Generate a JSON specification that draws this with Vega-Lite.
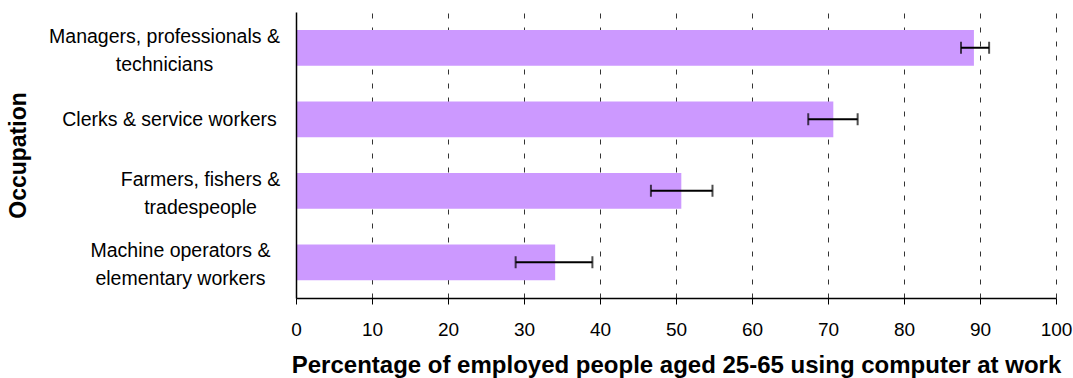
{
  "$schema": "https://vega.github.io/schema/vega-lite/v6.json",
  "width": 760,
  "height": 286,
  "autosize": {"type": "none"},
  "padding": {"left": 296, "top": 12, "right": 17, "bottom": 80},
  "background": "white",
  "config": {
    "view": {"stroke": null},
    "font": "Liberation Sans"
  },
  "data": {
    "values": [
      {"occupation": "Managers, professionals & technicians", "value": 89.2, "lo": 87.5, "hi": 91.2},
      {"occupation": "Clerks & service workers", "value": 70.7, "lo": 67.4, "hi": 73.9},
      {"occupation": "Farmers, fishers & tradespeople", "value": 50.7, "lo": 46.7, "hi": 54.8},
      {"occupation": "Machine operators & elementary workers", "value": 34.1, "lo": 28.9, "hi": 39.0}
    ]
  },
  "encoding": {
    "y": {
      "field": "occupation",
      "type": "nominal",
      "sort": null,
      "scale": {"paddingInner": 0.5, "paddingOuter": 0.25},
      "axis": {
        "title": "Occupation",
        "titleFont": "Liberation Sans",
        "titleFontSize": 23,
        "titleFontWeight": "bold",
        "titleColor": "black",
        "titleAngle": 270,
        "titleAlign": "center",
        "titleBaseline": "middle",
        "titleX": -278,
        "titleY": 143,
        "labelFont": "Liberation Sans",
        "labelFontSize": 19.5,
        "labelColor": "black",
        "labelLineHeight": 28,
        "labelAlign": "center",
        "labelBaseline": "middle",
        "labelLimit": 0,
        "labelPadding": {
          "condition": [
            {"test": "datum.value == 'Clerks & service workers'", "value": 127},
            {"test": "datum.value == 'Farmers, fishers & tradespeople'", "value": 96},
            {"test": "datum.value == 'Machine operators & elementary workers'", "value": 116}
          ],
          "value": 132
        },
        "labelOffset": {
          "condition": {"test": "datum.value == 'Clerks & service workers'", "value": 1},
          "value": -11
        },
        "labelExpr": "datum.value == 'Managers, professionals & technicians' ? ['Managers, professionals &', 'technicians'] : datum.value == 'Farmers, fishers & tradespeople' ? ['Farmers, fishers &', 'tradespeople'] : datum.value == 'Machine operators & elementary workers' ? ['Machine operators &', 'elementary workers'] : datum.value",
        "ticks": false,
        "domainColor": "black",
        "domainWidth": 1.5,
        "grid": false,
        "zindex": 1
      }
    }
  },
  "layer": [
    {
      "mark": {"type": "bar", "color": "#CC99FF"},
      "encoding": {
        "x": {
          "field": "value",
          "type": "quantitative",
          "scale": {"domain": [0, 100], "nice": false},
          "axis": {
            "title": "Percentage of employed people aged 25-65 using computer at work",
            "titleFont": "Liberation Sans",
            "titleFontSize": 24,
            "titleFontWeight": "bold",
            "titleColor": "black",
            "titlePadding": 14,
            "values": [0, 10, 20, 30, 40, 50, 60, 70, 80, 90, 100],
            "labelFont": "Liberation Sans",
            "labelFontSize": 19,
            "labelColor": "black",
            "labelPadding": 16,
            "labelFlush": false,
            "labelOverlap": false,
            "tickColor": "black",
            "tickSize": 6,
            "tickWidth": 1,
            "domainColor": "black",
            "domainWidth": 1.5,
            "grid": true,
            "gridColor": "#333333",
            "gridWidth": 1,
            "gridDash": [5, 9],
            "zindex": 0
          }
        }
      }
    },
    {
      "mark": {"type": "rule", "color": "black", "strokeWidth": 2},
      "encoding": {
        "x": {"field": "lo", "type": "quantitative"},
        "x2": {"field": "hi"}
      }
    },
    {
      "mark": {"type": "tick", "color": "black", "thickness": 2, "size": 12, "orient": "vertical"},
      "encoding": {
        "x": {"field": "lo", "type": "quantitative"}
      }
    },
    {
      "mark": {"type": "tick", "color": "black", "thickness": 2, "size": 12, "orient": "vertical"},
      "encoding": {
        "x": {"field": "hi", "type": "quantitative"}
      }
    }
  ]
}
